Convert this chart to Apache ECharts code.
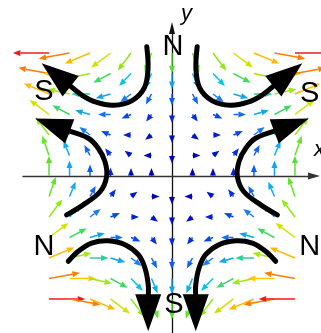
<!DOCTYPE html>
<html>
<head>
<meta charset="utf-8">
<script src="https://cdn.jsdelivr.net/npm/echarts@6/dist/echarts.min.js"></script>
<style>
html,body{margin:0;padding:0;background:#fff;}
#chart{width:321px;height:333px;}
</style>
</head>
<body>
<div id="chart"></div>
<script>
// Sample nodes of the sextupole field
const xs = [-6, -5, -4, -3, -2, -1, 0, 1, 2, 3, 4, 5, 6];
const ys = [6, 5, 4, 3, 2, 1, 0, -1, -2, -3, -4, -5, -6];

// Field components at each node: rows follow ys, columns follow xs
const Bx = [
  [-72, -60, -48, -36, -24, -12, 0, 12, 24, 36, 48, 60, 72],
  [-60, -50, -40, -30, -20, -10, 0, 10, 20, 30, 40, 50, 60],
  [-48, -40, -32, -24, -16, -8, 0, 8, 16, 24, 32, 40, 48],
  [-36, -30, -24, -18, -12, -6, 0, 6, 12, 18, 24, 30, 36],
  [-24, -20, -16, -12, -8, -4, 0, 4, 8, 12, 16, 20, 24],
  [-12, -10, -8, -6, -4, -2, 0, 2, 4, 6, 8, 10, 12],
  [0, 0, 0, 0, 0, 0, 0, 0, 0, 0, 0, 0, 0],
  [12, 10, 8, 6, 4, 2, 0, -2, -4, -6, -8, -10, -12],
  [24, 20, 16, 12, 8, 4, 0, -4, -8, -12, -16, -20, -24],
  [36, 30, 24, 18, 12, 6, 0, -6, -12, -18, -24, -30, -36],
  [48, 40, 32, 24, 16, 8, 0, -8, -16, -24, -32, -40, -48],
  [60, 50, 40, 30, 20, 10, 0, -10, -20, -30, -40, -50, -60],
  [72, 60, 48, 36, 24, 12, 0, -12, -24, -36, -48, -60, -72]
];
const By = [
  [0, -11, -20, -27, -32, -35, -36, -35, -32, -27, -20, -11, 0],
  [11, 0, -9, -16, -21, -24, -25, -24, -21, -16, -9, 0, 11],
  [20, 9, 0, -7, -12, -15, -16, -15, -12, -7, 0, 9, 20],
  [27, 16, 7, 0, -5, -8, -9, -8, -5, 0, 7, 16, 27],
  [32, 21, 12, 5, 0, -3, -4, -3, 0, 5, 12, 21, 32],
  [35, 24, 15, 8, 3, 0, -1, 0, 3, 8, 15, 24, 35],
  [36, 25, 16, 9, 4, 1, 0, 1, 4, 9, 16, 25, 36],
  [35, 24, 15, 8, 3, 0, -1, 0, 3, 8, 15, 24, 35],
  [32, 21, 12, 5, 0, -3, -4, -3, 0, 5, 12, 21, 32],
  [27, 16, 7, 0, -5, -8, -9, -8, -5, 0, 7, 16, 27],
  [20, 9, 0, -7, -12, -15, -16, -15, -12, -7, 0, 9, 20],
  [11, 0, -9, -16, -21, -24, -25, -24, -21, -16, -9, 0, 11],
  [0, -11, -20, -27, -32, -35, -36, -35, -32, -27, -20, -11, 0]
];

// Colour ramp for field strength (0 .. 72)
const strengthColors = ['#0000b0', '#0018d8', '#0a50f0', '#1a8cfa', '#00c4ec', '#58e030',
                        '#c0ec00', '#ffc400', '#ff9400', '#ff6400', '#ee1a1a'];

// Field lines from N to S poles (data coordinates, last point = arrow tip)
const lineTopLeft = [[-1.23, 6.31], [-1.17, 5.2], [-1.35, 4.3], [-1.95, 3.68], [-2.85, 3.45], [-3.7, 3.6], [-4.4, 3.95], [-6.36, 5.5]];
const lineTopRight = [[1.23, 6.31], [1.17, 5.2], [1.35, 4.3], [1.95, 3.68], [2.85, 3.45], [3.7, 3.6], [4.4, 3.95], [6.36, 5.5]];
const lineLeft = [[-5.14, -1.9], [-4.33, -1.41], [-3.51, -0.77], [-3.19, -0.03], [-3.27, 0.7], [-3.6, 1.35], [-4.08, 1.84], [-6.68, 2.81]];
const lineRight = [[5.14, -1.9], [4.33, -1.41], [3.51, -0.77], [3.19, -0.03], [3.27, 0.7], [3.6, 1.35], [4.08, 1.84], [6.68, 2.81]];
const lineBottomLeft = [[-5.06, -4.16], [-4.57, -3.67], [-3.92, -3.27], [-3.11, -3.16], [-2.29, -3.35], [-1.64, -3.84], [-1.32, -4.49], [-1.16, -5.3], [-1.16, -7.58]];
const lineBottomRight = [[5.06, -4.16], [4.57, -3.67], [3.92, -3.27], [3.11, -3.16], [2.29, -3.35], [1.64, -3.84], [1.32, -4.49], [1.16, -5.3], [1.16, -7.58]];
const fieldLines = [lineTopLeft, lineTopRight, lineLeft, lineRight, lineBottomLeft, lineBottomRight];

// Pole names and where they sit
const poleNames = ['N', 'S', 'S', 'N', 'N', 'S'];
const polePositions = [[0.05, 6.27], [-6.25, 4.1], [6.72, 4.0], [-6.25, -3.45], [6.72, -3.45], [0.09, -6.3]];

// Build the quiver records: [x, y, bx, by, |B|]
const quiverData = [];
ys.forEach(function (y, r) {
  xs.forEach(function (x, c) {
    const bx = Bx[r][c], by = By[r][c];
    const m = Math.hypot(bx, by);
    if (m > 0) quiverData.push([x, y, bx, by, m]);
  });
});

function renderQuiver(params, api) {
  const x = api.value(0), y = api.value(1);
  const bx = api.value(2), by = api.value(3), m = api.value(4);
  const p0 = api.coord([x, y]);
  const p1 = api.coord([x + bx, y + by]);
  let dx = p1[0] - p0[0], dy = p1[1] - p0[1];
  const d = Math.hypot(dx, dy);
  dx /= d; dy /= d;
  const len = Math.max(8, 4.5 + 0.44 * m);
  const tip = [p0[0] + dx * len, p0[1] + dy * len];
  const hl = Math.min(7.5, len), hw = 6;
  const base = [tip[0] - dx * hl, tip[1] - dy * hl];
  const nx = -dy, ny = dx;
  const color = api.visual('color');
  const children = [];
  if (len - hl > 0.3) {
    children.push({
      type: 'line',
      shape: { x1: p0[0], y1: p0[1], x2: base[0], y2: base[1] },
      style: { stroke: color, lineWidth: 1.5 }
    });
  }
  children.push({
    type: 'polygon',
    shape: { points: [tip, [base[0] + nx * hw / 2, base[1] + ny * hw / 2], [base[0] - nx * hw / 2, base[1] - ny * hw / 2]] },
    style: { fill: color }
  });
  return { type: 'group', children: children };
}

function renderFieldLine(params, api) {
  const pts = fieldLines[params.dataIndex].map(function (p) { return api.coord(p); });
  const tip = pts[pts.length - 1], prev = pts[pts.length - 2];
  let dx = tip[0] - prev[0], dy = tip[1] - prev[1];
  const d = Math.hypot(dx, dy);
  dx /= d; dy /= d;
  const hl = 37, hw = 26;
  const base = [tip[0] - dx * hl, tip[1] - dy * hl];
  const nx = -dy, ny = dx;
  const body = pts.slice(0, -1).concat([[base[0] + dx * 2, base[1] + dy * 2]]);
  return {
    type: 'group',
    children: [
      {
        type: 'polyline',
        shape: { points: body, smooth: 0.35 },
        style: { stroke: '#000', lineWidth: 5, fill: null, lineCap: 'round', lineJoin: 'round' }
      },
      {
        type: 'polygon',
        shape: { points: [tip, [base[0] + nx * hw / 2, base[1] + ny * hw / 2], [base[0] - nx * hw / 2, base[1] - ny * hw / 2]] },
        style: { fill: '#000' }
      }
    ]
  };
}

function renderPole(params, api) {
  const p = api.coord([api.value(0), api.value(1)]);
  return {
    type: 'text',
    x: p[0], y: p[1],
    style: {
      text: poleNames[params.dataIndex],
      font: '29px "Liberation Sans", Arial, sans-serif',
      fill: '#000',
      align: 'center',
      verticalAlign: 'middle'
    }
  };
}

const chart = echarts.init(document.getElementById('chart'), null, { renderer: 'canvas' });
chart.setOption({
  animation: false,
  backgroundColor: '#fff',
  grid: { left: 23, right: 7, top: 28, bottom: 0 },
  xAxis: {
    type: 'value', min: -7.27, max: 6.93,
    axisLine: { onZero: true, lineStyle: { color: '#333', width: 1.3 }, symbol: ['none', 'triangle'], symbolSize: [7, 12] },
    axisTick: { show: false }, axisLabel: { show: false }, splitLine: { show: false }
  },
  yAxis: {
    type: 'value', min: -7.66, max: 7.22,
    axisLine: { onZero: true, lineStyle: { color: '#111', width: 1.3 }, symbol: ['none', 'triangle'], symbolSize: [6, 12] },
    axisTick: { show: false }, axisLabel: { show: false }, splitLine: { show: false }
  },
  visualMap: {
    show: false, type: 'continuous', min: 0, max: 72, dimension: 4, seriesIndex: 0,
    inRange: { color: strengthColors }
  },
  graphic: [
    { type: 'text', left: 181, top: 3, style: { text: 'y', font: 'italic 22px "Liberation Sans", Arial, sans-serif', fill: '#000' } },
    { type: 'text', left: 314, top: 139, style: { text: 'x', font: 'italic 22px "Liberation Sans", Arial, sans-serif', fill: '#000' } }
  ],
  series: [
    {
      type: 'custom', name: 'field', clip: false, z: 2,
      renderItem: renderQuiver,
      data: quiverData
    },
    {
      type: 'custom', name: 'lines', clip: false, z: 3,
      renderItem: renderFieldLine,
      data: fieldLines.map(function (l) { return l[l.length - 1]; })
    },
    {
      type: 'custom', name: 'poles', clip: false, z: 4,
      renderItem: renderPole,
      data: polePositions
    }
  ]
});
</script>
</body>
</html>
